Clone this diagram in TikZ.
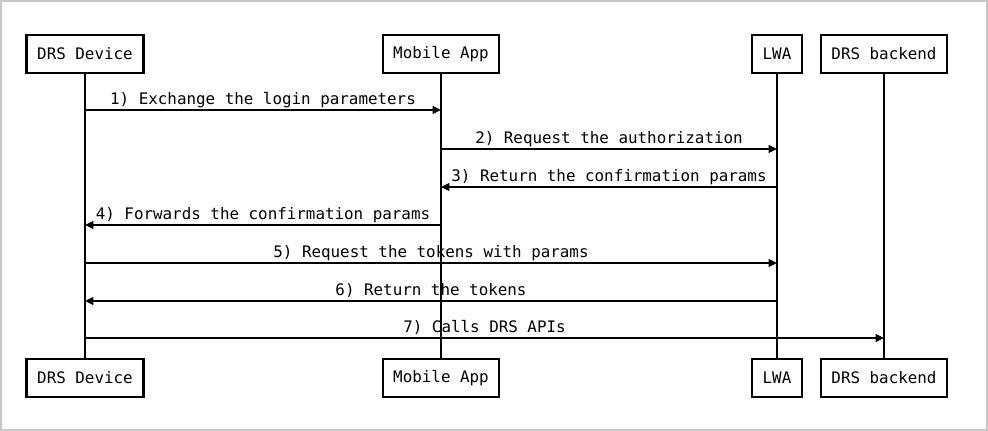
\documentclass[tikz,border=0pt]{standalone}
\usepackage{fontspec}
\setmonofont{DejaVu Sans Mono}
\usetikzlibrary{arrows.meta}
\begin{document}
\begin{tikzpicture}[x=0.75pt,y=-0.75pt,
  font=\ttfamily\fontsize{11.9pt}{14pt}\selectfont,
  actor/.style={draw=black,line width=1.65pt,fill=white,minimum height=28.5pt,inner xsep=0pt,inner ysep=0pt,text=black},
  life/.style={line width=1.5pt,black},
  msg/.style={line width=1.5pt,black,-{Triangle[length=6.3pt,width=5.8pt]}},
  lbl/.style={anchor=base,inner sep=0pt,text=black}]
\useasboundingbox (0,0) rectangle (988,431);
\draw[line width=1.5pt,color=black!22] (1,1) rectangle (987,430);
% actors top
\node[actor,minimum width=87.75pt] (t1) at (85,54) {DRS Device};
\node[actor,minimum width=87pt] (t2) at (441,54) {Mobile App};
\node[actor,minimum width=37.5pt] (t3) at (777,54) {LWA};
\node[actor,minimum width=94.5pt] (t4) at (884,54) {DRS backend};
% actors bottom
\node[actor,minimum width=87.75pt] (b1) at (85,377.7) {DRS Device};
\node[actor,minimum width=87pt] (b2) at (441,377.7) {Mobile App};
\node[actor,minimum width=37.5pt] (b3) at (777,377.7) {LWA};
\node[actor,minimum width=94.5pt] (b4) at (884,377.7) {DRS backend};
% lifelines
\draw[life] (t1.south) -- (b1.north);
\draw[life] (t2.south) -- (b2.north);
\draw[life] (t3.south) -- (b3.north);
\draw[life] (t4.south) -- (b4.north);
% messages
\draw[msg] (t1 |- 0,110) -- (t2 |- 0,110);
\node[lbl] (l1) at (263,104.3) {1) Exchange the login parameters};
\draw[msg] (t2 |- 0,149) -- (t3 |- 0,149);
\node[lbl] (l2) at (609,143.3) {2) Request the authorization};
\draw[msg] (t3 |- 0,187) -- (t2 |- 0,187);
\node[lbl] (l3) at (609,181.3) {3) Return the confirmation params};
\draw[msg] (t2 |- 0,225) -- (t1 |- 0,225);
\node[lbl] (l4) at (263,219.3) {4) Forwards the confirmation params};
\draw[msg] (t1 |- 0,263) -- (t3 |- 0,263);
\node[lbl] (l5) at (431,257.3) {5) Request the tokens with params};
\draw[msg] (t3 |- 0,301) -- (t1 |- 0,301);
\node[lbl] (l6) at (431,295) {6) Return the tokens};
\draw[msg] (t1 |- 0,338) -- (t4 |- 0,338);
\node[lbl] (l7) at (484.5,332.3) {7) Calls DRS APIs};
\end{tikzpicture}
\end{document}
